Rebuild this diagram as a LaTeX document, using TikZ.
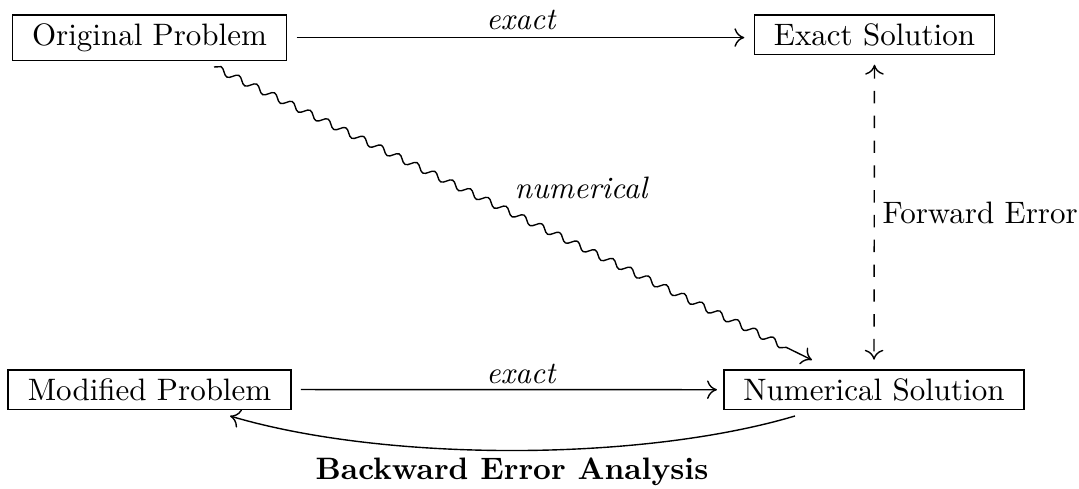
\documentclass[tikz,border=0pt]{standalone}
\usetikzlibrary{decorations.pathmorphing,calc,arrows.meta}
\begin{document}
\begin{tikzpicture}[x=0.3226pt,y=-0.3226pt,
  >={To[length=3.2pt,width=6pt]},
  box/.style={draw,line width=0.5pt,inner xsep=6.3pt,inner ysep=2.8pt,anchor=north},
  lbl/.style={inner sep=0pt},
  conn/.style={->,line width=0.45pt}]
\useasboundingbox (0,0) rectangle (1079,489);
\node[box] (orig) at (149.5,14) {Original Problem};
\node[box] (exact) at (874.5,14) {Exact Solution};
\node[box] (mod) at (149.5,369) {Modified Problem};
\node[box] (num) at (874,369) {Numerical Solution};
% top exact arrow
\draw[conn,shorten <=3pt,shorten >=3pt] (orig.east) -- (orig.east -| exact.west);
\node[lbl] (lexact1) at (521,20) {\itshape exact};
% bottom exact arrow
\draw[conn,shorten <=3pt,shorten >=2pt] (mod.east) -- (num.west);
\node[lbl] (lexact2) at (521,374) {\itshape exact};
% forward error
\draw[conn,<->,dash pattern=on 4pt off 4pt,shorten <=3pt,shorten >=3pt] (exact.south) -- (num.north);
\node[lbl,anchor=west] (lfwd) at (882,213) {Forward Error};
% numerical snake
\coordinate (s1) at (214,67);
\coordinate (s2) at (812,360);
\draw[conn,decorate,decoration={snake,amplitude=1.1pt,segment length=6.4pt,post length=2.5mm}] (s1) -- (s2);
\node[lbl] (lnum) at (581,188) {\itshape numerical};
% backward error curve
\coordinate (b1) at (795,416);
\coordinate (b2) at (230,416);
\draw[conn] (b1) .. controls (640,462) and (385,462) .. (b2);
\node[lbl] (lback) at (512,472) {\bfseries Backward Error Analysis};
\end{tikzpicture}
\end{document}
